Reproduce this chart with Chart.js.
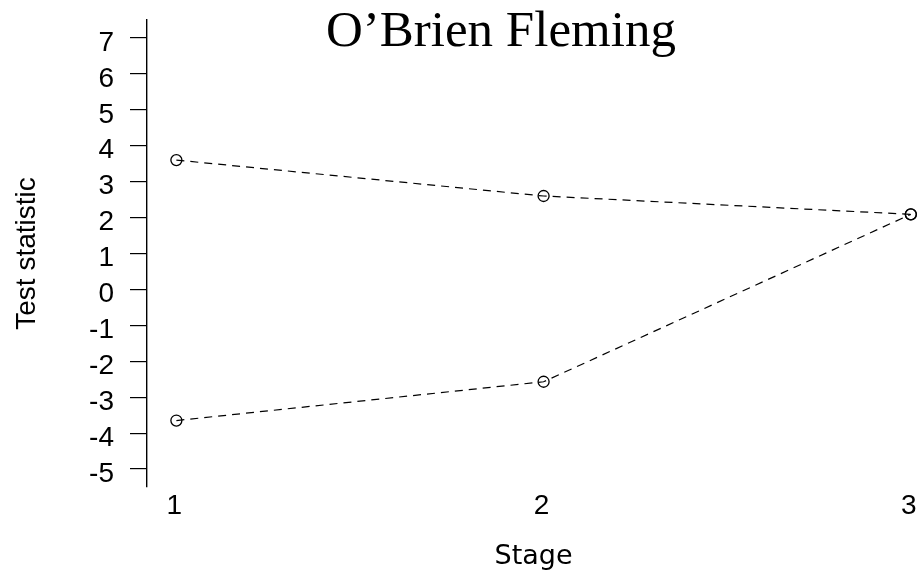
<!DOCTYPE html>
<html>
<head>
<meta charset="utf-8">
<script src="https://cdn.jsdelivr.net/npm/chart.js@4/dist/chart.umd.min.js"></script>
<style>
  html, body { margin: 0; padding: 0; background: #fff; overflow: hidden; }
  #wrap { position: relative; width: 920px; height: 573px; }
  #chart { position: absolute; left: 0; top: 0; }
  #title {
    position: absolute; left: 326px; top: 4px;
    font-family: 'Liberation Serif', serif; font-size: 51px; line-height: 1;
    color: #000; white-space: nowrap;
  }
</style>
</head>
<body>
<div id="wrap">
  <canvas id="chart" width="920" height="573"></canvas>
  <div id="title">O’Brien Fleming</div>
</div>
<script>
// Stages of the group-sequential design and the boundary values at each one
const stages = [1, 2, 3];
const stageLabels = ['1', '2', '3'];
const upperBoundary = [3.60, 2.60, 2.09];
const lowerBoundary = [-3.65, -2.57, 2.09];
const yTickValues = [-5, -4, -3, -2, -1, 0, 1, 2, 3, 4, 5, 6, 7];
const yTickLabels = ['-5', '-4', '-3', '-2', '-1', '0', '1', '2', '3', '4', '5', '6', '7'];

const toPoints = vals => stages.map((s, i) => ({ x: s, y: vals[i] }));

const lineStyle = {
  borderColor: '#000',
  borderWidth: 1.2,
  borderDash: [8, 6],
  tension: 0,
  fill: false,
  pointRadius: 5.5,
  pointHoverRadius: 5.5,
  pointBorderWidth: 1.3,
  pointBorderColor: '#000',
  pointBackgroundColor: 'rgba(0,0,0,0)',
  clip: false
};

const tickFont = { family: "'Liberation Sans', Arial, sans-serif", size: 28 };

new Chart(document.getElementById('chart'), {
  type: 'line',
  data: {
    datasets: [
      Object.assign({ label: 'Upper boundary', data: toPoints(upperBoundary) }, lineStyle),
      Object.assign({ label: 'Lower boundary', data: toPoints(lowerBoundary) }, lineStyle)
    ]
  },
  options: {
    responsive: false,
    animation: false,
    layout: { padding: { top: 20, left: 0, right: 0, bottom: 0 }, autoPadding: false },
    plugins: { legend: { display: false }, tooltip: { enabled: false }, title: { display: false } },
    scales: {
      x: {
        type: 'linear',
        min: 0.92,
        max: 3.025,
        afterBuildTicks: s => { s.ticks = stages.map(v => ({ value: v })); },
        afterFit: s => { s.height = 86; s.paddingLeft = 0; s.paddingRight = 0; },
        grid: { display: false, drawTicks: false },
        border: { display: false },
        ticks: {
          font: tickFont, color: '#000', padding: 2, labelOffset: -2,
          maxRotation: 0, autoSkip: false,
          callback: v => stageLabels[stages.indexOf(v)]
        },
        title: {
          display: true, text: 'Stage', color: '#000',
          font: { family: "'DejaVu Sans', sans-serif", size: 27 },
          padding: { top: 4, bottom: 0 }
        }
      },
      y: {
        type: 'linear',
        min: -5.5,
        max: 7.5,
        afterBuildTicks: s => { s.ticks = yTickValues.map(v => ({ value: v })); },
        afterFit: s => { s.width = 147; s.paddingTop = 0; s.paddingBottom = 0; },
        grid: {
          display: true, drawOnChartArea: false, drawTicks: true,
          tickLength: 17, color: '#000', lineWidth: 1.2
        },
        border: { display: true, color: '#000', width: 1.4 },
        ticks: {
          font: tickFont, color: '#000', padding: 16, labelOffset: 5,
          autoSkip: false,
          callback: v => yTickLabels[yTickValues.indexOf(v)]
        },
        title: {
          display: true, text: 'Test statistic', color: '#000',
          font: tickFont,
          padding: { top: 10, bottom: 0 }
        }
      }
    }
  }
});
</script>
</body>
</html>
